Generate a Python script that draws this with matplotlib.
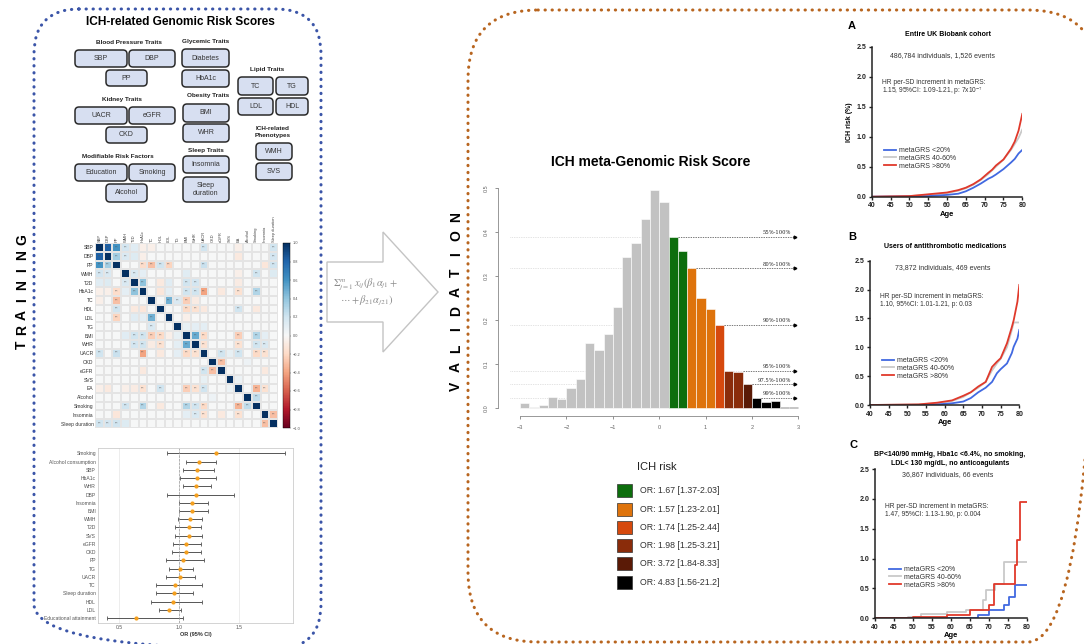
import numpy as np
import matplotlib
matplotlib.use("Agg")
import matplotlib.pyplot as plt
from matplotlib.patches import FancyBboxPatch, Rectangle, Polygon
from matplotlib.lines import Line2D

plt.rcParams['font.family'] = ['Liberation Sans', 'DejaVu Sans']
plt.rcParams['mathtext.fontset'] = 'stix'

# ---------------- data ----------------
group_titles = ["Blood Pressure Traits", "Glycemic Traits", "Lipid Traits", "Kidney Traits",
                "Obesity Traits", "ICH-related\nPhenotypes", "Modifiable Risk Factors", "Sleep Traits"]
trait_labels = ["SBP", "DBP", "PP", "Diabetes", "HbA1c", "TC", "TG", "LDL", "HDL",
                "UACR", "eGFR", "CKD", "BMI", "WHR", "WMH", "SVS",
                "Education", "Smoking", "Alcohol", "Insomnia", "Sleep\nduration"]

hm_labels = ["SBP", "DBP", "PP", "WMH", "T2D", "HbA1c", "TC", "HDL", "LDL", "TG", "BMI", "WHR",
             "UACR", "CKD", "eGFR", "SVS", "EA", "Alcohol", "Smoking", "Insomnia", "Sleep duration"]
hm_pairs = [("SBP", "DBP", 0.82), ("SBP", "PP", 0.6), ("DBP", "PP", 0.35), ("SBP", "WMH", 0.18),
            ("DBP", "WMH", 0.15), ("SBP", "T2D", 0.12), ("DBP", "T2D", 0.14), ("SBP", "UACR", 0.2),
            ("SBP", "Sleep duration", 0.2), ("DBP", "Sleep duration", 0.18), ("PP", "Sleep duration", 0.2),
            ("PP", "TC", -0.3), ("PP", "HDL", 0.2), ("PP", "LDL", -0.22), ("PP", "UACR", 0.22),
            ("PP", "HbA1c", -0.18), ("PP", "Insomnia", -0.12), ("WMH", "T2D", 0.15), ("WMH", "HbA1c", 0.1),
            ("WMH", "BMI", 0.12), ("WMH", "Smoking", 0.2), ("WMH", "Sleep duration", 0.14),
            ("T2D", "HbA1c", 0.4), ("T2D", "LDL", 0.12), ("T2D", "HDL", -0.1), ("T2D", "BMI", 0.2),
            ("T2D", "WHR", 0.18), ("HbA1c", "BMI", 0.2), ("HbA1c", "WHR", 0.2), ("HbA1c", "UACR", -0.4),
            ("HbA1c", "Smoking", 0.3), ("HbA1c", "EA", -0.15), ("HbA1c", "HDL", -0.12), ("HbA1c", "eGFR", -0.1),
            ("HbA1c", "LDL", 0.1), ("TC", "LDL", 0.48), ("TC", "TG", 0.15), ("TC", "BMI", -0.25),
            ("HDL", "BMI", -0.2), ("HDL", "WHR", -0.15), ("HDL", "UACR", -0.1), ("HDL", "EA", 0.2),
            ("HDL", "Smoking", -0.1), ("TG", "BMI", 0.08), ("TG", "WHR", 0.1), ("BMI", "WHR", 0.5),
            ("BMI", "UACR", -0.2), ("BMI", "EA", -0.25), ("BMI", "Smoking", 0.3), ("BMI", "Insomnia", 0.1),
            ("WHR", "UACR", -0.15), ("WHR", "EA", -0.15), ("WHR", "Smoking", 0.2), ("WHR", "Insomnia", 0.15),
            ("UACR", "eGFR", 0.2), ("UACR", "EA", 0.2), ("UACR", "Smoking", -0.2), ("UACR", "Insomnia", -0.15),
            ("CKD", "eGFR", -0.3), ("eGFR", "Insomnia", -0.1), ("EA", "DBP", -0.1), ("EA", "Smoking", -0.35),
            ("EA", "Insomnia", -0.15), ("Alcohol", "Smoking", 0.25), ("Insomnia", "Sleep duration", -0.3),
            ("SBP", "HbA1c", -0.06), ("DBP", "HbA1c", -0.06), ("SVS", "UACR", 0.08), ("SVS", "EA", 0.06),
            ("TC", "WHR", -0.08), ("LDL", "BMI", -0.06), ("CKD", "Alcohol", 0.05), ("TG", "UACR", 0.1),
            ("SBP", "TC", -0.06), ("SBP", "EA", -0.06), ("T2D", "EA", -0.08), ("WMH", "EA", -0.06)]

fp_traits = ["Smoking", "Alcohol consumption", "SBP", "HbA1c", "WHR", "DBP", "Insomnia", "BMI",
             "WMH", "T2D", "SVS", "eGFR", "CKD", "PP", "TG", "UACR", "TC", "Sleep duration",
             "HDL", "LDL", "Educational attainment"]
fp_or = [1.31, 1.17, 1.15, 1.15, 1.14, 1.14, 1.11, 1.11, 1.09, 1.08, 1.08, 1.06, 1.06, 1.03,
         1.01, 1.01, 0.97, 0.96, 0.95, 0.92, 0.64]
fp_lo = [0.90, 1.06, 1.03, 1.01, 1.03, 0.90, 1.00, 1.00, 0.99, 0.97, 0.97, 0.95, 0.94, 0.89,
         0.92, 0.89, 0.81, 0.81, 0.77, 0.83, 0.40]
fp_hi = [1.88, 1.31, 1.29, 1.31, 1.27, 1.46, 1.24, 1.24, 1.19, 1.18, 1.19, 1.18, 1.18, 1.21,
         1.12, 1.13, 1.19, 1.12, 1.19, 1.02, 1.03]

hist_left = np.round(np.arange(-3.0, 2.81, 0.2), 1)
hist_density = [0.011, 0.004, 0.007, 0.026, 0.022, 0.045, 0.066, 0.149, 0.132, 0.169, 0.230,
                0.344, 0.374, 0.429, 0.495, 0.467, 0.389, 0.356, 0.317, 0.249, 0.225, 0.189,
                0.085, 0.082, 0.054, 0.024, 0.014, 0.017, 0.002, 0.002]
hist_group = [0] * 16 + [1, 1, 2, 2, 2, 3, 4, 4, 5, 6, 6, 6, 6, 6]
thr_labels = ["55%-100%", "80%-100%", "90%-100%", "95%-100%", "97.5%-100%", "99%-100%"]
thr_values = [0.389, 0.317, 0.189, 0.085, 0.054, 0.024]
thr_start = [0.4, 0.8, 1.4, 1.8, 2.0, 2.2]
or_labels = ["OR: 1.67 [1.37-2.03]", "OR: 1.57 [1.23-2.01]", "OR: 1.74 [1.25-2.44]",
             "OR: 1.98 [1.25-3.21]", "OR: 3.72 [1.84-8.33]", "OR: 4.83 [1.56-21.2]"]

grs_labels = ["metaGRS <20%", "metaGRS 40-60%", "metaGRS >80%"]
# panel A
a_age = [40, 50, 55, 60, 63, 65, 67, 69, 71, 72, 73, 75, 77, 78, 79, 80]
a_low = [0, 0.005, 0.01, 0.03, 0.05, 0.09, 0.15, 0.22, 0.3, 0.33, 0.37, 0.46, 0.57, 0.63, 0.72, 0.78]
a_mid = [0, 0.01, 0.03, 0.06, 0.1, 0.14, 0.2, 0.28, 0.38, 0.44, 0.5, 0.62, 0.78, 0.88, 0.98, 1.12]
a_high = [0, 0.01, 0.04, 0.07, 0.11, 0.15, 0.21, 0.29, 0.4, 0.45, 0.52, 0.62, 0.8, 0.92, 1.1, 1.38]
# panel B
b_age = [40, 53, 58, 62, 65, 67, 69, 71, 72.7, 74, 75, 76.7, 78, 78.5, 79.5, 80]
b_low = [0, 0, 0.01, 0.03, 0.06, 0.12, 0.22, 0.3, 0.4, 0.55, 0.62, 0.72, 0.9, 1.01, 1.15, 1.3]
b_mid = [0, 0.01, 0.03, 0.07, 0.14, 0.22, 0.3, 0.4, 0.6, 0.72, 0.8, 1.0, 1.3, 1.43, 1.43, 1.43]
b_high = [0, 0.01, 0.04, 0.08, 0.16, 0.22, 0.32, 0.4, 0.66, 0.75, 0.81, 1.07, 1.35, 1.47, 1.79, 2.08]
# panel C (step functions)
c_low_age = [40, 67.1, 70, 74, 75.4, 77, 80]
c_low = [0, 0.05, 0.14, 0.22, 0.35, 0.55, 0.55]
c_mid_age = [40, 48.8, 52, 59, 64, 68.5, 69.4, 71.6, 74, 80]
c_mid = [0, 0.02, 0.07, 0.1, 0.14, 0.31, 0.47, 0.58, 0.95, 0.95]
c_high_age = [40, 50, 59, 65, 70, 71.5, 76.8, 77.4, 78.3, 80]
c_high = [0, 0.02, 0.05, 0.14, 0.22, 0.58, 0.89, 1.31, 1.95, 1.95]

# ---------------- figure ----------------
W, H = 1084, 644
fig = plt.figure(figsize=(W / 100, H / 100), dpi=100)


def box(x0, y0, x1, y1):
    return [x0 / W, 1 - y1 / H, (x1 - x0) / W, (y1 - y0) / H]


def T(x, y, s, **kw):
    fig.text(x / W, 1 - y / H, s, **kw)


bg = fig.add_axes([0, 0, 1, 1])
bg.set_xlim(0, W)
bg.set_ylim(H, 0)
bg.axis('off')

blue = '#3b55a8'
brown = '#b8651f'
bg.add_patch(FancyBboxPatch((34, 9), 287, 640, boxstyle="round,pad=0,rounding_size=45",
                            fc='none', ec=blue, lw=2.2, ls=(0, (0.1, 2.2)), capstyle='round'))
bg.add_patch(FancyBboxPatch((468, 10), 630, 632, boxstyle="round,pad=0,rounding_size=70",
                            fc='none', ec=brown, lw=2.2, ls=(0, (0.1, 2.2)), capstyle='round'))

for i, ch in enumerate("TRAINING"):
    T(22, 345 - i * 15, ch, rotation=90, ha='center', va='center', fontsize=10, fontweight='bold')
for i, ch in enumerate("VALIDATION"):
    T(456, 386 - i * 18.8, ch, rotation=90, ha='center', va='center', fontsize=10, fontweight='bold')

# ---- trait boxes ----
T(180, 22, "ICH-related Genomic Risk Scores", ha='center', va='center', fontsize=8.6, fontweight='bold')
group_pos = [(129, 42), (206, 42), (267, 70), (122, 99), (208, 96), (273, 132), (118, 156), (206, 150)]
for (gx, gy), g in zip(group_pos, group_titles):
    T(gx, gy, g, ha='center', va='center', fontsize=4.6, fontweight='bold', color='#222',
      linespacing=1.3)
trait_pos = [(75, 50, 127, 67), (129, 50, 175, 67), (106, 70, 147, 86), (182, 49, 229, 67),
             (182, 70, 229, 87), (238, 77, 273, 95), (276, 77, 308, 95), (238, 98, 273, 115),
             (276, 98, 308, 115), (75, 107, 127, 124), (129, 107, 175, 124), (106, 127, 147, 143),
             (183, 104, 229, 122), (183, 124, 229, 142), (256, 143, 292, 160), (256, 163, 292, 180),
             (75, 164, 127, 181), (129, 164, 175, 181), (106, 184, 147, 202), (183, 156, 229, 173),
             (183, 177, 229, 202)]
for (x0, y0, x1, y1), lab in zip(trait_pos, trait_labels):
    bg.add_patch(FancyBboxPatch((x0, y0), x1 - x0, y1 - y0, boxstyle="round,pad=0,rounding_size=4",
                                fc='#d7dff1', ec='#2a2a2a', lw=1.1))
    T((x0 + x1) / 2, (y0 + y1) / 2, lab, ha='center', va='center', fontsize=5, color='#333',
      linespacing=1.2)

# ---- correlation heatmap ----
n = len(hm_labels)
idx = {l: i for i, l in enumerate(hm_labels)}
M = np.eye(n)
for a, b, v in hm_pairs:
    M[idx[a], idx[b]] = v
    M[idx[b], idx[a]] = v
ax = fig.add_axes(box(95, 243, 278, 428))
mesh = ax.pcolormesh(M, cmap='RdBu', vmin=-1, vmax=1, edgecolors='#e4e4e4', linewidth=0.3)
for i in range(n):
    for j in range(n):
        if i != j and abs(M[i, j]) >= 0.15:
            ax.text(j + 0.5, i + 0.5, "***", ha='center', va='center', fontsize=2.2, color='#555')
ax.set_xlim(0, n)
ax.set_ylim(n, 0)
ax.set_xticks(np.arange(n) + 0.5)
ax.set_xticklabels(hm_labels, rotation=90, fontsize=2.9, color='#444')
ax.set_yticks(np.arange(n) + 0.5)
ax.set_yticklabels(hm_labels, fontsize=3.6, color='#333')
ax.xaxis.tick_top()
ax.tick_params(length=0, pad=1)
for s in ax.spines.values():
    s.set_visible(False)
cax = fig.add_axes(box(283, 243, 290, 428))
cb = fig.colorbar(mesh, cax=cax, ticks=[1, 0.8, 0.6, 0.4, 0.2, 0, -0.2, -0.4, -0.6, -0.8, -1])
cb.ax.tick_params(labelsize=2.8, length=1, width=0.3, colors='#555', pad=1)
cb.outline.set_linewidth(0.3)

# ---- forest plot ----
ax = fig.add_axes(box(98, 448, 293, 623))
ax.set_facecolor('none')
y = np.arange(len(fp_traits))
fo = np.array(fp_or)
ax.errorbar(fo, y, xerr=[fo - np.array(fp_lo), np.array(fp_hi) - fo], fmt='none', ecolor='#555',
            elinewidth=0.7, capsize=1.3, capthick=0.6)
ax.scatter(fo, y, s=9, color='#f5a01f', zorder=3, linewidths=0)
ax.set_xlim(0.325, 1.95)
ax.set_ylim(20.6, -0.65)
ax.set_xticks([0.5, 1.0, 1.5])
ax.set_xticklabels(["0.5", "1.0", "1.5"])
ax.set_yticks(y)
ax.set_yticklabels(fp_traits)
ax.tick_params(labelsize=3.6, length=0, pad=1.5, colors='#555')
ax.grid(axis='x', color='#e6e6e6', lw=0.5)
ax.axvline(1.0, color='#999', ls='--', lw=0.5)
for s in ax.spines.values():
    s.set_color('#cccccc')
    s.set_linewidth(0.6)
ax.set_xlabel("OR (95% CI)", fontsize=4, fontweight='bold', labelpad=1.5, color='#333')

# ---- arrow ----
bg.add_patch(Polygon([(327, 262), (383, 262), (383, 232), (438, 292), (383, 352), (383, 322), (327, 322)],
                     closed=True, fc='white', ec='#c4c4c4', lw=1))
T(333, 284, r"$\Sigma_{j=1}^{m}\,x_{ij}(\beta_1\alpha_{j1}+$", fontsize=7.5, color='#8a8a8a', va='center')
T(340, 301, r"$\cdots+\beta_{21}\alpha_{j21})$", fontsize=7.5, color='#8a8a8a', va='center')

# ---- histogram ----
grp_colors = ['#c2c2c2', '#0d6e0d', '#de730c', '#d6490d', '#8a2c0a', '#5a1a06', '#000000']
T(651, 162, "ICH meta-Genomic Risk Score", ha='center', va='center', fontsize=10, fontweight='bold')
ax = fig.add_axes(box(492.2, 178.9, 807.7, 417.1))
ax.set_facecolor('none')
ax.bar(hist_left, hist_density, width=0.2, align='edge',
       color=[grp_colors[g] for g in hist_group], edgecolor='white', linewidth=0.4, zorder=2)
for lab, v, x0 in zip(thr_labels, thr_values, thr_start):
    ax.plot([-3.22, x0], [v, v], color='#c8c8c8', ls=(0, (1, 1.5)), lw=0.5, zorder=1)
    ax.plot([x0, 2.92], [v, v], color='#444', ls=(0, (2, 1.5)), lw=0.5, zorder=3)
    ax.plot(2.93, v, marker='>', ms=2, color='k', zorder=4)
    ax.text(2.84, v + 0.004, lab, ha='right', va='bottom', fontsize=3.8, family='serif', color='#222')
ax.set_xlim(-3.6, 3.2)
ax.set_ylim(-0.02, 0.52)
for s in ['top', 'right']:
    ax.spines[s].set_visible(False)
ax.spines['left'].set_position(('data', -3.47))
ax.spines['left'].set_bounds(0, 0.5)
ax.spines['bottom'].set_position(('data', -0.0175))
ax.spines['bottom'].set_bounds(-3, 3)
for s in ['left', 'bottom']:
    ax.spines[s].set_color('#888')
    ax.spines[s].set_linewidth(0.6)
ax.set_xticks([-3, -2, -1, 0, 1, 2, 3])
ax.set_yticks([0, 0.1, 0.2, 0.3, 0.4, 0.5])
ax.set_yticklabels(["0.0", "0.1", "0.2", "0.3", "0.4", "0.5"], rotation=90, va='center')
ax.tick_params(labelsize=4, colors='#666', length=2.5, width=0.5, pad=4)

# ---- ICH risk legend ----
T(637, 467, "ICH risk", fontsize=8, va='center', color='#222')
leg_y = [490.8, 509.2, 527.3, 545.8, 563.3, 582.5]
for ly, c, lab in zip(leg_y, grp_colors[1:], or_labels):
    bg.add_patch(Rectangle((617, ly - 6.5), 15, 13, fc=c, ec='#333', lw=0.5))
    T(640, ly, lab, fontsize=6.3, va='center', color='#333')

# ---- survival panels ----
c_blue, c_grey, c_red = '#4169e1', '#c9c9c9', '#e0392b'


def panel(pix, letter, lpos, titles, tpos, annot, apos, hr, hpos, legpos, ylabel=False):
    ax = fig.add_axes(box(*pix))
    ax.set_facecolor('none')
    ax.set_xlim(40, 80)
    ax.set_ylim(0, 2.5)
    ax.set_xticks(range(40, 81, 5))
    ax.set_yticks([0, 0.5, 1.0, 1.5, 2.0, 2.5])
    ax.set_yticklabels(["0.0", "0.5", "1.0", "1.5", "2.0", "2.5"])
    for s in ['top', 'right']:
        ax.spines[s].set_visible(False)
    for s in ['left', 'bottom']:
        ax.spines[s].set_linewidth(1.1)
        ax.spines[s].set_color('#222')
    ax.tick_params(labelsize=5, length=2.5, width=1, pad=1.5, colors='#222')
    for lab in ax.get_xticklabels() + ax.get_yticklabels():
        lab.set_fontweight('bold')
    ax.set_xlabel("Age", fontsize=5.5, fontweight='bold', labelpad=1)
    if ylabel:
        ax.set_ylabel("ICH risk (%)", fontsize=5, fontweight='bold', labelpad=2)
    T(lpos[0], lpos[1], letter, fontsize=8, fontweight='bold', ha='center', va='center')
    for k, t in enumerate(titles):
        T(tpos[0], tpos[1] + k * 8.5, t, fontsize=5, fontweight='bold', ha='center', va='center')
    T(apos[0], apos[1], annot, fontsize=5, ha='center', va='center', color='#333')
    T(hpos[0], hpos[1], hr[0], fontsize=4.8, va='center', color='#333')
    T(hpos[0], hpos[1] + 9, hr[1], fontsize=4.8, va='center', color='#333')
    handles = [Line2D([], [], color=c, lw=1.3) for c in (c_blue, c_grey, c_red)]
    ax.legend(handles, grs_labels, loc='upper left', bbox_to_anchor=(legpos[0] / W, 1 - legpos[1] / H),
              bbox_transform=fig.transFigure, frameon=False, fontsize=5, handlelength=1.7,
              handletextpad=0.5, labelspacing=0.12, borderpad=0, borderaxespad=0,
              labelcolor='#333')
    return ax


ax = panel((871.7, 46.7, 1022.3, 196.7), "A", (852, 26), ["Entire UK Biobank cohort"], (948, 35),
           "486,784 individuals, 1,526 events", (943, 56),
           ["HR per-SD increment in metaGRS:", r"1.15, 95%CI: 1.09-1.21, p: 7x10$^{-7}$"], (882, 82),
           (884, 147), ylabel=True)
ax.plot(a_age, a_mid, color=c_grey, lw=1.3)
ax.plot(a_age, a_low, color=c_blue, lw=1.3)
ax.plot(a_age, a_high, color=c_red, lw=1.3)

ax = panel((870, 260.7, 1019.3, 405), "B", (852, 237), ["Users of antithrombotic medications"], (945, 247),
           "73,872 individuals, 469 events", (943, 268),
           ["HR per-SD increment in metaGRS:", "1.10, 95%CI: 1.01-1.21, p: 0.03"], (880, 296),
           (882, 357))
ax.plot(b_age, b_mid, color=c_grey, lw=1.3)
ax.plot(b_age, b_low, color=c_blue, lw=1.3)
ax.plot(b_age, b_high, color=c_red, lw=1.3)

ax = panel((875, 469, 1026.7, 618.3), "C", (853, 445),
           ["BP<140/90 mmHg, Hba1c <6.4%, no smoking,", "LDL< 130 mg/dL, no anticoagulants"], (950, 455),
           "36,867 individuals, 66 events", (948, 475),
           ["HR per-SD increment in metaGRS:", "1.47, 95%CI: 1.13-1.90, p: 0.004"], (885, 506),
           (889, 566))
ax.step(c_mid_age, c_mid, where='post', color=c_grey, lw=1.3)
ax.step(c_low_age, c_low, where='post', color=c_blue, lw=1.3)
ax.step(c_high_age, c_high, where='post', color=c_red, lw=1.3)

fig.savefig("out.png", dpi=100)
